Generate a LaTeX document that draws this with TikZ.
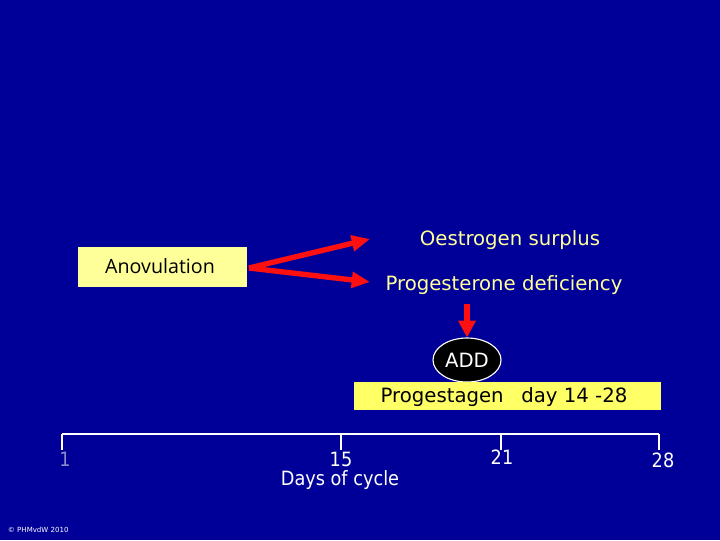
\documentclass[tikz,border=0pt]{standalone}
\usepackage{fontspec}
\setmainfont{DejaVu Sans}
\newfontfamily\handfont{Open Sans}
\newfontfamily\narrowfont{DejaVu Sans Condensed}
\usetikzlibrary{arrows.meta,shapes.geometric}
\definecolor{SLblau}{HTML}{000099}
\definecolor{SLgelb}{HTML}{FFFF99}
\definecolor{SLbalken}{HTML}{FFFF66}
\definecolor{SLrot}{HTML}{FF1010}
\definecolor{SLgrau}{HTML}{8C8CC8}
\newcommand{\pfeilbreite}{3.8pt}
\newcommand{\tickhoehe}{16}
\newcommand{\achsey}{434}
\newcommand{\tick}[1]{%
  \draw[white, line width=1.4pt] (#1,\achsey) -- (#1,\achsey+\tickhoehe);}
\tikzset{
  redarrow/.style={SLrot, line width=\pfeilbreite,
    -{Triangle[length=13pt,width=11pt]}},
  yellowtext/.style={text=SLgelb, font=\fontsize{14}{16}\selectfont},
  daylabel/.style={text=white, inner sep=0.5pt, font=\narrowfont\fontsize{14}{16}\selectfont}
}

\begin{document}
\begin{tikzpicture}[x=0.025cm, y=-0.025cm]

% ====================================================================
%
%         Hintergrund
%
% ====================================================================

  \fill[SLblau] (0,0) rectangle (720,540);
  \useasboundingbox (0,0) rectangle (720,540);

% ====================================================================
%
%         Kaesten
%
% ====================================================================

  % Anovulation links
  \fill[SLgelb] (78,247) rectangle (247,287);
  \node[font=\handfont\fontsize{14}{16}\selectfont] (anov) at (160,266) {Anovulation};
  \coordinate (anovstart) at (249,268);

  % Folgen rechts
  \node[yellowtext] (oes) at (510,240) {Oestrogen surplus};
  \node[yellowtext] (prog) at (504,285) {Progesterone deficiency};
  \coordinate (oestip) at (370,239);
  \coordinate (progtip) at (370,282);

  % ADD
  \node[ellipse, fill=black, draw=white, line width=0.8pt, minimum width=68*0.025cm,
    minimum height=44*0.025cm, inner sep=0pt, text=white,
    font=\fontsize{14}{16}\selectfont] (add) at (467,360) {ADD};

  % Balken Progestagen
  \fill[SLbalken] (354,382) rectangle (661,410);
  \node[font=\fontsize{14}{16}\selectfont] (gestagen) at (504,397)
    {Progestagen\hspace{0.9em}day 14 -28};

% ====================================================================
%
%         Pfeile
%
% ====================================================================

  \draw[redarrow] (anovstart) -- (oestip);
  \draw[redarrow] (anovstart) -- (progtip);
  \draw[redarrow, -{Triangle[length=12pt,width=12pt]}]
    (prog.south -| add.north) ++(0,4) -- (add.north);

% ====================================================================
%
%         Achse
%
% ====================================================================

  \draw[white, line width=1.4pt] (62,\achsey) -- (659,\achsey);
  \tick{62} \tick{341} \tick{501} \tick{659}

  \node[daylabel, text=SLgrau] (d1) at (65,459) {1};
  \node[daylabel] (d15) at (341,459) {15};
  \node[daylabel] (d21) at (502,457) {21};
  \node[daylabel] (d28) at (663,460) {28};
  \node[daylabel] (tage) at (340,480) {Days of cycle};

  % Copyright
  \node[text=white, font=\fontsize{5}{6}\selectfont, anchor=west] (copy)
    at (3,530) {© PHMvdW 2010};

\end{tikzpicture}
\end{document}
